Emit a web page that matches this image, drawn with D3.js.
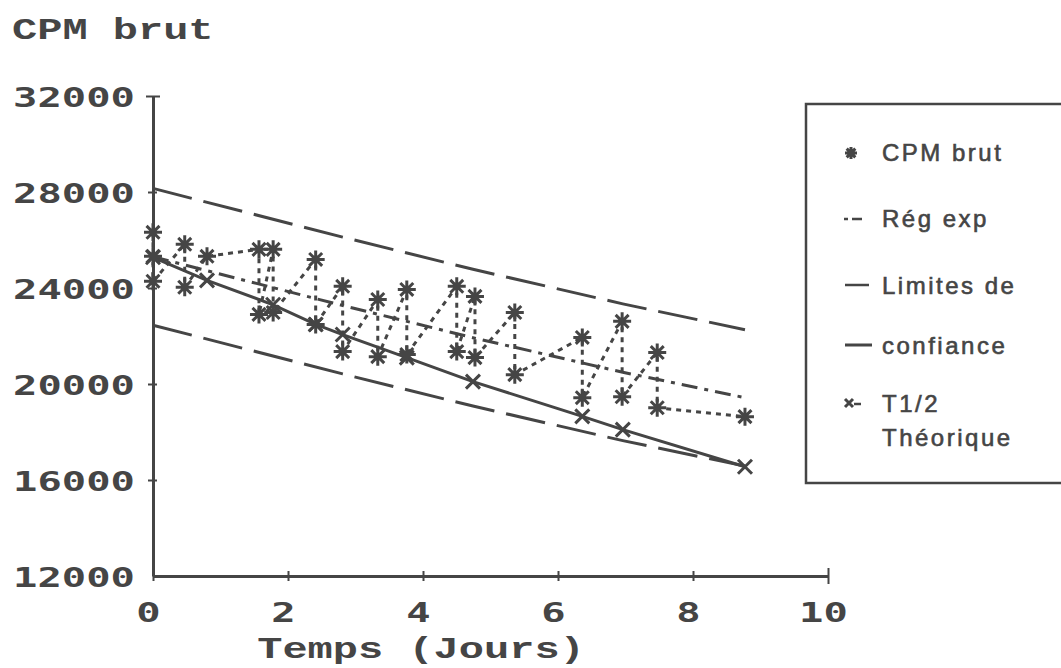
<!DOCTYPE html>
<html>
<head>
<meta charset="utf-8">
<title>CPM brut</title>
<script src="https://d3js.org/d3.v7.min.js"></script>
<style>
  body { margin: 0; background: #fff; }
  svg { display: block; }
</style>
</head>
<body>
<svg width="1061" height="668"></svg>
<script>
// measured counts (asterisks), listed in plotting order
const cpmDays   = [0, 0, 0, 0.47, 0.47, 0.8, 1.57, 1.57, 1.78, 1.78, 2.41, 2.41, 2.81, 2.81,
                   3.33, 3.33, 3.76, 3.76, 4.5, 4.5, 4.77, 4.77, 5.36, 5.36, 6.36, 6.36,
                   6.95, 6.95, 7.47, 7.47, 8.77];
const cpmValues = [26320, 25320, 24280, 25820, 24030, 25320, 25610, 22900, 25610, 22980,
                   25190, 22480, 24070, 21350, 23520, 21140, 23940, 21230, 24070, 21350,
                   23650, 21100, 22980, 20390, 21940, 19430, 22610, 19470, 21310, 19010, 18640];

// exponential regression and its confidence limits
const regDays    = [0, 2.81, 4.74, 6.96, 8.77];
const regValues  = [25300, 23270, 21930, 20490, 19430];
const upperValues = [28150, 26120, 24780, 23340, 22260];
const lowerValues = [22450, 20420, 19080, 17640, 16580];

// theoretical half-life curve
const halfDays   = [0, 0.8, 1.78, 2.41, 2.81, 3.76, 4.74, 6.36, 6.96, 8.77];
const halfValues = [25280, 24320, 23300, 22480, 22060, 21100, 20100, 18650, 18100, 16550];

const xTicks = [0, 2, 4, 6, 8, 10];
const yTicks = [12000, 16000, 20000, 24000, 28000, 32000];

const legendLabels = ["CPM brut", "Rég exp", "Limites de", "confiance", "T1/2", "Théorique"];

const ink = "#454545";
const svg = d3.select("svg");

const x = d3.scaleLinear().domain([0, 10]).range([153, 828]);
const y = d3.scaleLinear().domain([12000, 32000]).range([576, 96]);

// axes
const yAxis = svg.append("g")
  .attr("transform", `translate(${x(0)},0)`)
  .call(d3.axisLeft(y).tickValues(yTicks).tickSize(5).tickSizeOuter(0).tickFormat(d3.format("d")));
const xAxis = svg.append("g")
  .attr("transform", `translate(0,${y(12000)})`)
  .call(d3.axisBottom(x).tickValues(xTicks).tickSize(5).tickSizeOuter(0));

[yAxis, xAxis].forEach(a => {
  a.select(".domain").attr("stroke", ink).attr("stroke-width", 3);
  a.selectAll(".tick line").attr("stroke", ink).attr("stroke-width", 2);
  a.selectAll(".tick text")
    .attr("fill", ink)
    .style("font-family", "'DejaVu Sans Mono', monospace")
    .style("font-weight", "bold")
    .style("font-size", "27px");
});

yAxis.selectAll(".tick line").attr("x1", d => d === 32000 ? 7 : 4).attr("x2", d => d === 32000 ? -7 : -5);
yAxis.selectAll(".tick").filter(d => d === 12000).select("line").remove();
yAxis.selectAll(".tick text")
  .attr("x", 0).attr("dy", "0.38em")
  .attr("transform", "translate(-18,0) scale(1.5,1)");

xAxis.selectAll(".tick line").attr("y1", d => d === 10 ? -8 : -5).attr("y2", d => d === 10 ? 8 : 5);
xAxis.selectAll(".tick text")
  .attr("y", 46).attr("dy", 0)
  .attr("transform", "translate(-5,0) scale(1.5,1)");

// titles
svg.append("text")
  .attr("transform", "translate(12,39) scale(1.4,1)")
  .attr("fill", ink)
  .style("font-family", "'Liberation Mono', monospace")
  .style("font-weight", "bold")
  .style("font-size", "30px")
  .text("CPM brut");

svg.append("text")
  .attr("transform", "translate(421,658) scale(1.4,1)")
  .attr("text-anchor", "middle")
  .attr("fill", ink)
  .style("font-family", "'Liberation Mono', monospace")
  .style("font-weight", "bold")
  .style("font-size", "30px")
  .text("Temps (Jours)");

// lines
const line = d3.line().x(d => x(d[0])).y(d => y(d[1]));
const zip = (xs, ys) => xs.map((v, i) => [v, ys[i]]);

function drawLine(pts, dash, width) {
  svg.append("path")
    .attr("d", line(pts))
    .attr("fill", "none")
    .attr("stroke", ink)
    .attr("stroke-width", width)
    .attr("stroke-dasharray", dash)
    .attr("stroke-linecap", "butt");
}

drawLine(zip(regDays, upperValues), "40,12", 3);
drawLine(zip(regDays, lowerValues), "40,12", 3);
drawLine(zip(regDays, regValues), "16,7,4,7", 3);
drawLine(zip(halfDays, halfValues), null, 3);
drawLine(zip(cpmDays, cpmValues), "5,5", 3);

// markers
function asterisk(g, cx, cy, r) {
  const a = r * 0.72;
  g.append("path")
    .attr("d", `M${cx - r},${cy}H${cx + r}M${cx},${cy - r}V${cy + r}` +
               `M${cx - a},${cy - a}L${cx + a},${cy + a}M${cx - a},${cy + a}L${cx + a},${cy - a}`)
    .attr("stroke", ink).attr("stroke-width", 3).attr("fill", "none");
}
function cross(g, cx, cy, r) {
  g.append("path")
    .attr("d", `M${cx - r},${cy - r}L${cx + r},${cy + r}M${cx - r},${cy + r}L${cx + r},${cy - r}`)
    .attr("stroke", ink).attr("stroke-width", 3).attr("fill", "none");
}

const marks = svg.append("g");
halfDays.forEach((d, i) => cross(marks, x(d), y(halfValues[i]), 7));
cpmDays.forEach((d, i) => asterisk(marks, x(d), y(cpmValues[i]), 9));

// legend
const lg = svg.append("g");
lg.append("rect")
  .attr("x", 806).attr("y", 104).attr("width", 270).attr("height", 379)
  .attr("fill", "none").attr("stroke", ink).attr("stroke-width", 2.5);

const rowY = [161, 227, 294, 354, 412, 446];
lg.selectAll("text.lab")
  .data(legendLabels)
  .enter().append("text")
  .attr("class", "lab")
  .attr("x", 882)
  .attr("y", (d, i) => rowY[i])
  .attr("fill", ink)
  .attr("stroke", ink)
  .attr("stroke-width", 0.6)
  .style("font-family", "'Liberation Sans', Arial, sans-serif")
  .style("font-size", "24px")
  .style("letter-spacing", "2.5px")
  .text(d => d);

asterisk(lg, 851, 153, 6);
lg.append("path").attr("d", "M844,219H848M852,219H862")
  .attr("stroke", ink).attr("stroke-width", 2.5);
lg.append("path").attr("d", "M845,285H869")
  .attr("stroke", ink).attr("stroke-width", 2.5);
lg.append("path").attr("d", "M845,345H872")
  .attr("stroke", ink).attr("stroke-width", 3);
cross(lg, 849, 403, 4);
lg.append("path").attr("d", "M854,404H861")
  .attr("stroke", ink).attr("stroke-width", 2.5);
</script>
</body>
</html>
